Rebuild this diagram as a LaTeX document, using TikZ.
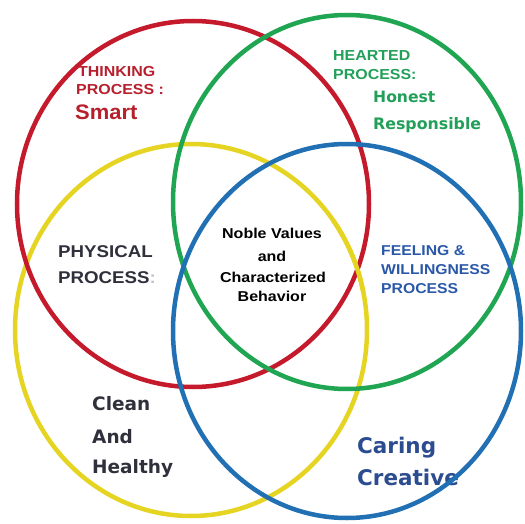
\documentclass[tikz,border=0pt]{standalone}
\usepackage{fontspec}
\setmainfont{Liberation Sans}
\newfontfamily\verd{DejaVu Sans}
\definecolor{cred}{HTML}{C41A2C}
\definecolor{cgreen}{HTML}{20A652}
\definecolor{cyellow}{HTML}{E6D422}
\definecolor{cblue}{HTML}{2270B4}
\definecolor{tred}{HTML}{B81F2D}
\definecolor{tgreen}{HTML}{22A05A}
\definecolor{tgray}{HTML}{30303C}
\definecolor{tblue}{HTML}{2A58A8}
\definecolor{tblue2}{HTML}{2C4C90}
\tikzset{
  ring/.style={line width=4.5pt},
  ln/.style={inner sep=0pt, anchor=base west, xscale=1.1},
  lc/.style={inner sep=0pt, anchor=base, xscale=1.12},
  vd/.style={inner sep=0pt, anchor=base west},
}
\begin{document}
\begin{tikzpicture}[x=1pt,y=-1pt]
\useasboundingbox[fill=white] (0,0) rectangle (525,524);
\node[ln, text=tred, font=\bfseries\fontsize{14.5}{16}\selectfont] (think1) at (78,77) {THINKING};
\node[ln, text=tred, font=\bfseries\fontsize{14.5}{16}\selectfont] (think2) at (76,95) {PROCESS :};
\node[ln, text=tred, font=\bfseries\fontsize{21}{22}\selectfont, xscale=0.95] (smart) at (75,120) {Smart};
\node[ln, text=tgreen, font=\bfseries\fontsize{14.5}{16}\selectfont] (heart1) at (333,61) {HEARTED};
\node[ln, text=tgreen, font=\bfseries\fontsize{14.5}{16}\selectfont] (heart2) at (333,80) {PROCESS:};
\node[vd, text=tgreen, font=\verd\bfseries\fontsize{15.6}{16}\selectfont] (honest) at (373,103) {Honest};
\node[vd, text=tgreen, font=\verd\bfseries\fontsize{15.8}{16}\selectfont] (resp) at (373,130) {Responsible};
\node[ln, text=tgray, font=\bfseries\fontsize{17}{18}\selectfont] (phys1) at (58,257) {PHYSICAL};
\node[ln, text=tgray, font=\bfseries\fontsize{17}{18}\selectfont] (phys2) at (58,283) {PROCESS\textcolor{tgray!30}{:}};
\node[lc, font=\bfseries\fontsize{14.3}{15}\selectfont] (noble1) at (272,238) {Noble Values};
\node[lc, font=\bfseries\fontsize{14.3}{15}\selectfont] (noble2) at (272,261) {and};
\node[lc, font=\bfseries\fontsize{14.3}{15}\selectfont] (noble3) at (273,282) {Characterized};
\node[lc, font=\bfseries\fontsize{14.3}{15}\selectfont] (noble4) at (272,301) {Behavior};
\node[ln, text=tblue, font=\bfseries\fontsize{14.3}{15}\selectfont] (feel1) at (381,255) {FEELING \&};
\node[ln, text=tblue, font=\bfseries\fontsize{14.3}{15}\selectfont] (feel2) at (381,274) {WILLINGNESS};
\node[ln, text=tblue, font=\bfseries\fontsize{14.3}{15}\selectfont] (feel3) at (381,293) {PROCESS};
\node[vd, text=tgray, font=\verd\bfseries\fontsize{18.5}{19}\selectfont] (clean1) at (92,410) {Clean};
\node[vd, text=tgray, font=\verd\bfseries\fontsize{18.5}{19}\selectfont] (clean2) at (92,443) {And};
\node[vd, text=tgray, font=\verd\bfseries\fontsize{18.5}{19}\selectfont] (clean3) at (92,473) {Healthy};
\node[vd, text=tblue2, font=\verd\bfseries\fontsize{21.5}{22}\selectfont] (caring) at (357,453) {Caring};
\node[vd, text=tblue2, font=\verd\bfseries\fontsize{21.5}{22}\selectfont] (creative) at (357,485) {Creative};
\draw[ring, cyellow] (191,330) ellipse[x radius=176, y radius=186];
\draw[ring, cred] (193,204) ellipse[x radius=176, y radius=183];
\draw[ring, cgreen] (347,202) ellipse[x radius=174, y radius=187];
\draw[ring, cblue] (347,331) ellipse[x radius=174, y radius=187];
% yellow passes over red at the right crossing
\draw[ring, cyellow] (191,330) ++(-36:176 and 186) arc[start angle=-36, end angle=-12, x radius=176, y radius=186];
\end{tikzpicture}
\end{document}
